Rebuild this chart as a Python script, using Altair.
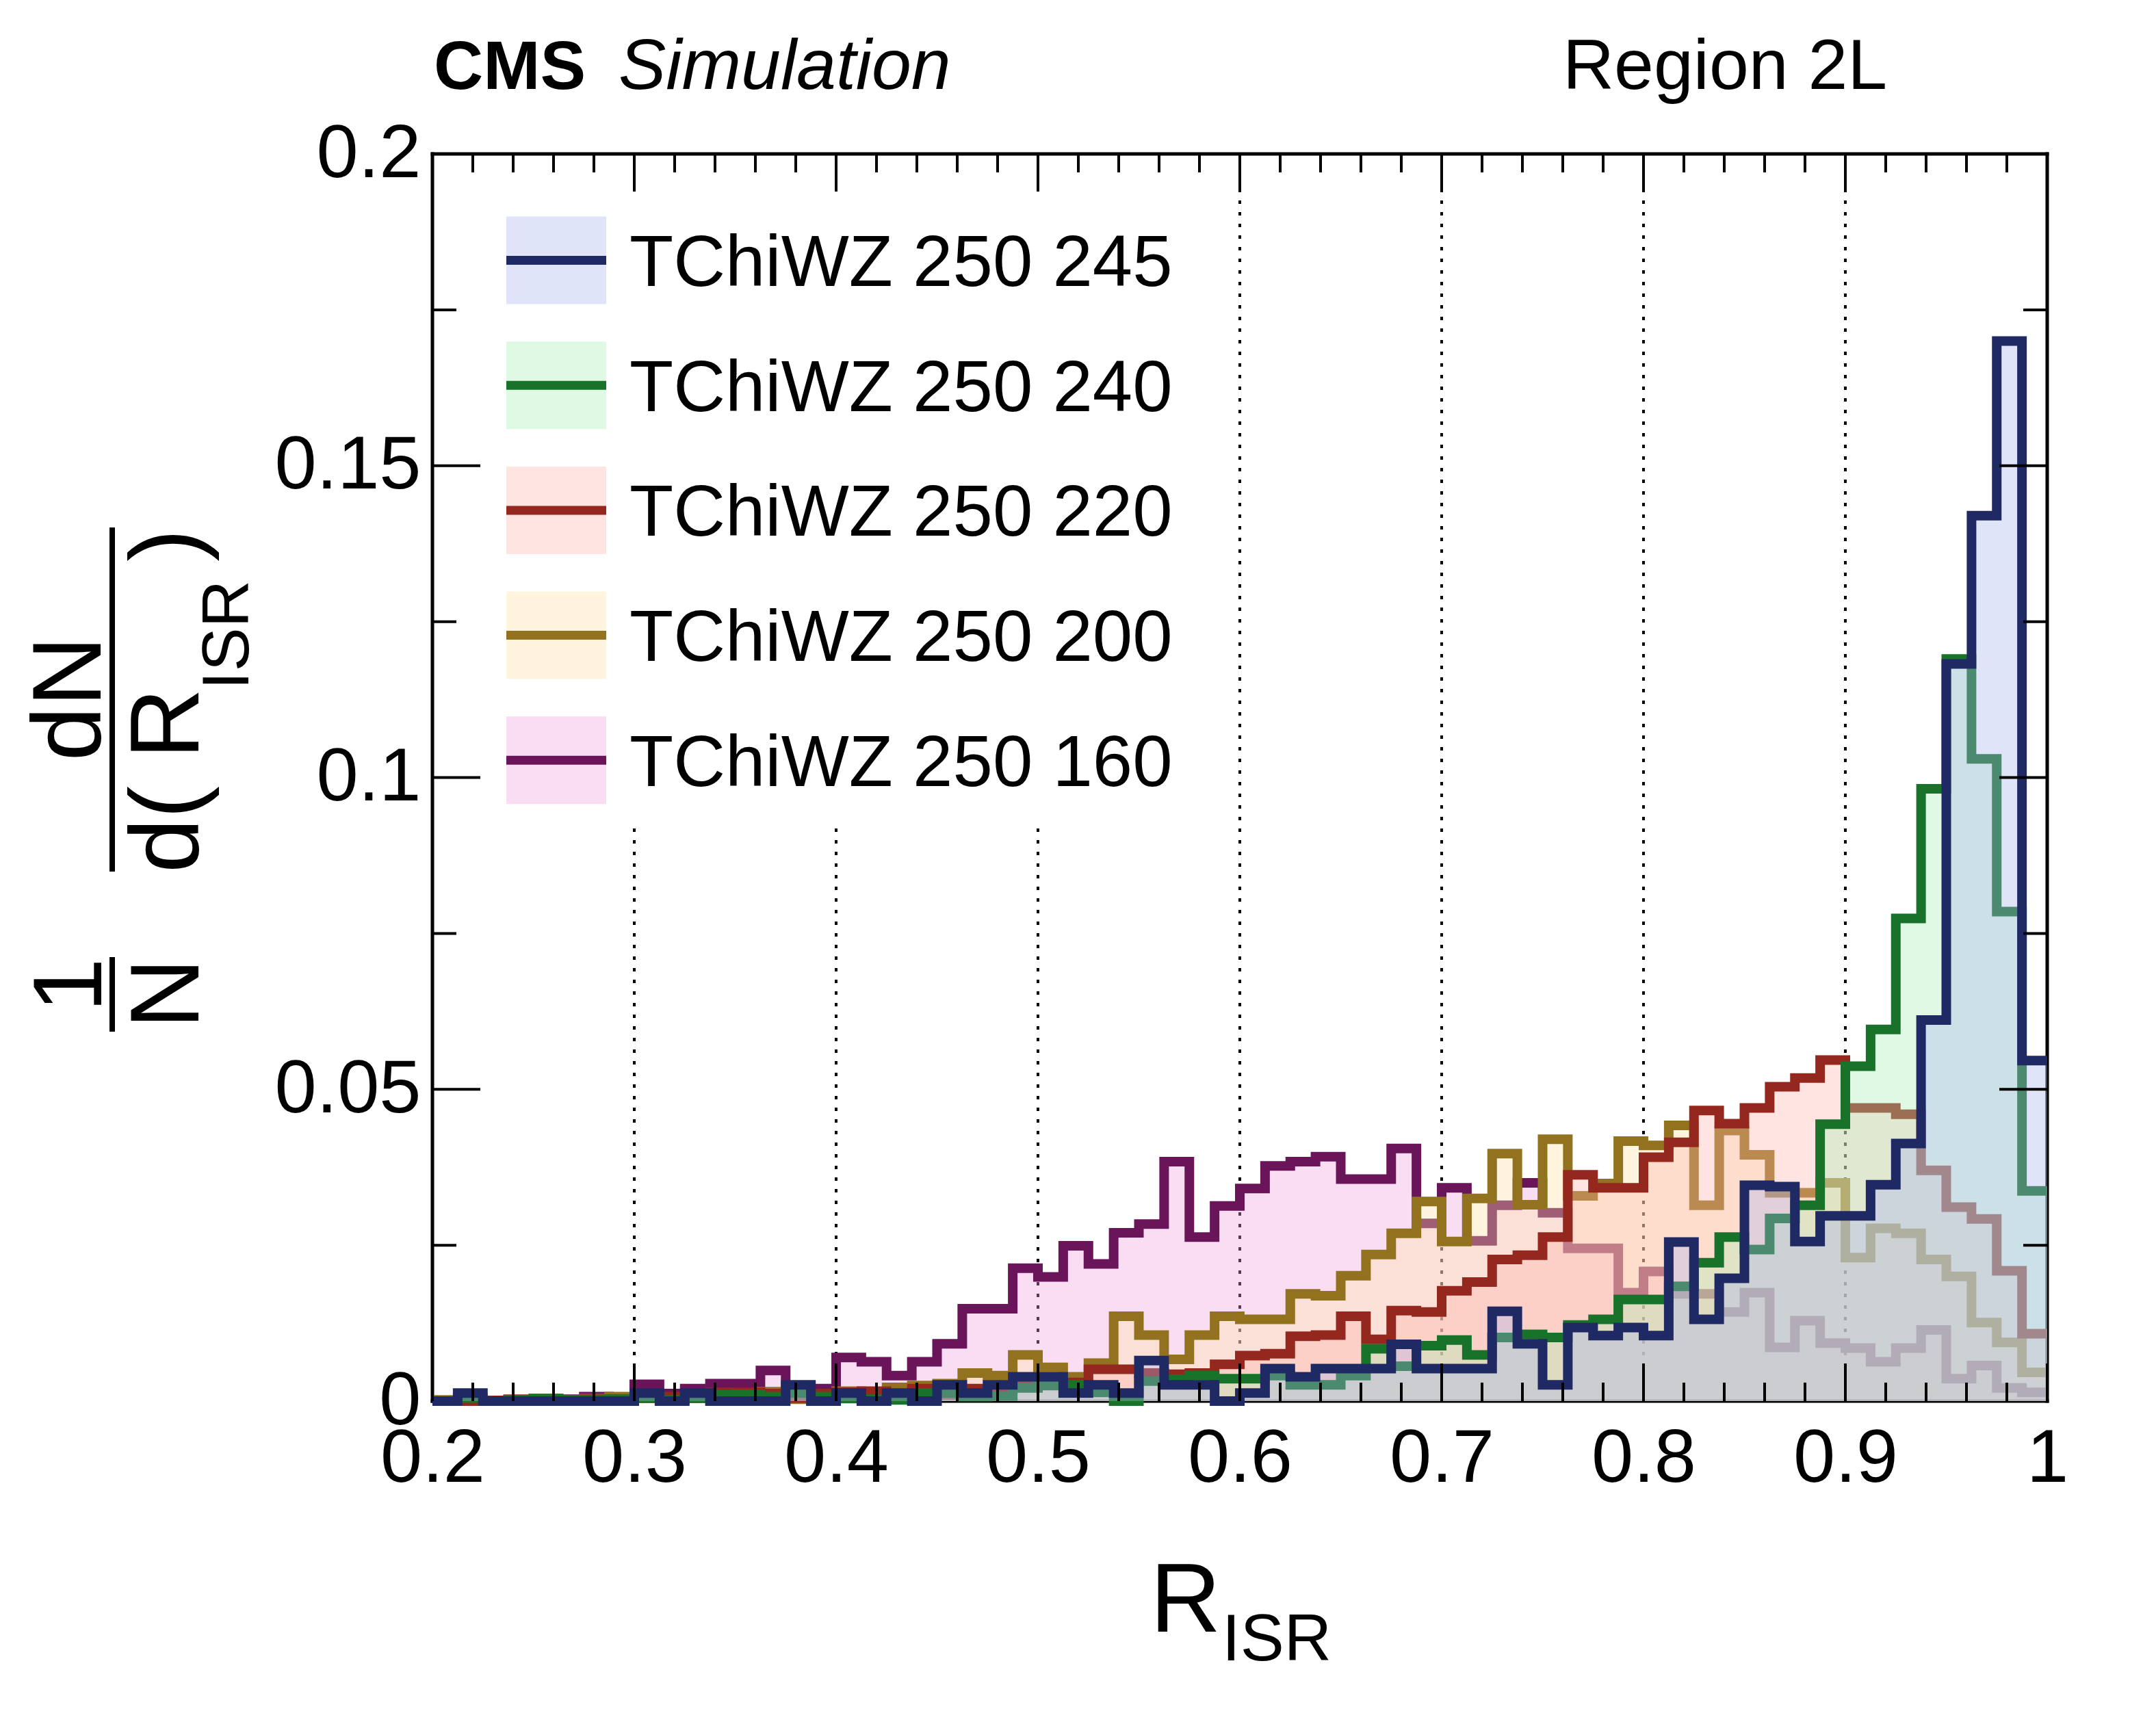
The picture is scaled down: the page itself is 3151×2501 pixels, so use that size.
import altair as alt
import pandas as pd

# ---------------- data ----------------
N_BINS = 64
X_MIN, X_MAX = 0.2, 1.0
BIN_WIDTH = (X_MAX - X_MIN) / N_BINS
bin_edges = [round(X_MIN + i * BIN_WIDTH, 6) for i in range(N_BINS)]

series_names = ["TChiWZ 250 245", "TChiWZ 250 240", "TChiWZ 250 220",
                "TChiWZ 250 200", "TChiWZ 250 160"]

v245 = [0, 0.0013, 0, 0, 0, 0, 0, 0, 0.0013, 0, 0.0013, 0, 0, 0, 0.0026, 0,
        0.0013, 0, 0.0013, 0, 0.0026, 0.0013, 0.0026, 0.0039, 0.0039, 0.0013, 0.0026, 0.0013, 0.0065, 0.0026, 0.0026, 0,
        0.0013, 0.0052, 0.0039, 0.0052, 0.0052, 0.0052, 0.0091, 0.0052, 0.0052, 0.0052, 0.0144, 0.0092, 0.0026, 0.0118, 0.0105, 0.0118,
        0.0105, 0.0255, 0.0131, 0.0197, 0.0346, 0.0344, 0.0256, 0.0297, 0.0297, 0.0347, 0.0413, 0.0611, 0.1182, 0.142, 0.170, 0.0546]

v240 = [0, 0.0005, 0, 0.0002, 0.0004, 0.0002, 0.0002, 0.0003, 0.0005, 0.0002, 0.0005, 0.001, 0.0011, 0.0007, 0.0013, 0.0007,
        0.0004, 0.0003, 0.0002, 0.0013, 0.0013, 0.0007, 0.0008, 0.0021, 0.0025, 0.0026, 0.0014, 0.0, 0.0032, 0.0035, 0.0041, 0.0036,
        0.0036, 0.0041, 0.0026, 0.0026, 0.0041, 0.0084, 0.0056, 0.0089, 0.0098, 0.0074, 0.0102, 0.0107, 0.0102, 0.0122, 0.0131, 0.0163,
        0.0163, 0.0184, 0.0222, 0.0263, 0.0243, 0.0293, 0.0314, 0.0444, 0.0537, 0.0596, 0.0774, 0.0982, 0.119, 0.103, 0.0785, 0.0337]

v220 = [0, 0, 0.0001, 0.0003, 0.0003, 0.0002, 0.0003, 0.0003, 0.0005, 0.0007, 0.0005, 0.0014, 0.0014, 0.0012, 0.0005, 0.0012,
        0.0014, 0.0016, 0.0003, 0.002, 0.001, 0.002, 0.0018, 0.0025, 0.003, 0.003, 0.0051, 0.0051, 0.0045, 0.0043, 0.0045, 0.0059,
        0.0073, 0.0076, 0.0104, 0.0106, 0.0136, 0.0099, 0.0145, 0.0143, 0.0177, 0.0191, 0.0227, 0.0234, 0.0263, 0.0363, 0.0342, 0.0342,
        0.0391, 0.0415, 0.0466, 0.0445, 0.047, 0.0504, 0.0518, 0.0547, 0.047, 0.047, 0.046, 0.037, 0.0311, 0.0292, 0.0209, 0.0108]

v200 = [0.0002, 0, 0, 0.0002, 0.0004, 0.0002, 0.0004, 0.0007, 0.0005, 0.0005, 0.0008, 0.0008, 0.001, 0.0015, 0.0003, 0.0007,
        0.0016, 0.0012, 0.0022, 0.0025, 0.0028, 0.0045, 0.0041, 0.0074, 0.0054, 0.0039, 0.0061, 0.0136, 0.0106, 0.0067, 0.0106, 0.0136,
        0.0131, 0.0131, 0.0172, 0.0169, 0.0201, 0.0235, 0.0269, 0.032, 0.0256, 0.0325, 0.0397, 0.0315, 0.042, 0.0329, 0.0349, 0.0417,
        0.041, 0.0442, 0.0314, 0.0434, 0.0395, 0.0334, 0.0334, 0.035, 0.023, 0.0277, 0.0269, 0.0227, 0.02, 0.0126, 0.0094, 0.0046]

v160 = [0, 0, 0, 0, 0, 0.0003, 0.0007, 0.0005, 0.0027, 0.0012, 0.002, 0.0028, 0.0028, 0.0049, 0.0025, 0.002,
        0.007, 0.0063, 0.0041, 0.0063, 0.0092, 0.0148, 0.0148, 0.0213, 0.0199, 0.0249, 0.022, 0.027, 0.0284, 0.0384, 0.0263, 0.0313,
        0.0341, 0.0377, 0.0384, 0.0392, 0.0356, 0.0356, 0.0405, 0.0285, 0.0342, 0.0257, 0.0314, 0.035, 0.0302, 0.0245, 0.0245, 0.0174,
        0.0208, 0.0172, 0.0172, 0.0143, 0.0174, 0.0086, 0.0129, 0.0093, 0.0085, 0.0063, 0.0085, 0.0114, 0.0036, 0.0057, 0.0021, 0.0014]

series_values = [v245, v240, v220, v200, v160]
line_colors = ["#1f2a64", "#18722a", "#95281e", "#93721f", "#6a1459"]
fill_colors = ["#aab4ee", "#a8efb6", "#ffb4ab", "#ffe2a6", "#eea4de"]

x_tick_values = [0.2, 0.3, 0.4, 0.5, 0.6, 0.7, 0.8, 0.9, 1.0]
y_tick_values = [0, 0.05, 0.1, 0.15, 0.2]
grid_x = [0.3, 0.4, 0.5, 0.6, 0.7, 0.8, 0.9]
x_minor = [round(0.2 + 0.02 * k, 4) for k in range(41) if k % 5]
y_major = [0.05, 0.1, 0.15]
y_minor = [0.025, 0.075, 0.125, 0.175]

# ---------------- tables ----------------
rows = []
for name, vals in zip(series_names, series_values):
    for e, v in zip(bin_edges, vals):
        rows.append({"series": name, "x": e, "y": v})
    rows.append({"series": name, "x": X_MAX, "y": vals[-1]})
hist_df = pd.DataFrame(rows)

one = pd.DataFrame({"a": [0]})

# ---------------- layout ----------------
W, H = 2360, 1823
FONT = "Liberation Sans"
LW = 14
FILL_OP = 0.36

XS = alt.Scale(domain=[X_MIN, X_MAX], nice=False, zero=False)
YS = alt.Scale(domain=[0, 0.2], nice=False, zero=False)
XAX = alt.Axis(values=x_tick_values, format="~g", labelFont=FONT, labelFontSize=110,
               labelColor="black", labelPadding=117, labelBaseline="alphabetic",
               ticks=False, tickSize=0, domain=False, grid=False, title=None, labelLimit=0,
               labelFlush=False, labelOverlap=False, labelBound=False)
YAX = alt.Axis(values=y_tick_values, format="~g", labelFont=FONT, labelFontSize=110,
               labelColor="black", labelPadding=17, labelBaseline="middle", labelAlign="right",
               ticks=False, tickSize=0, domain=False, grid=False, title=None, labelLimit=0,
               labelFlush=False, labelOverlap=False, labelBound=False)


def X(f="x"):
    return alt.X(f"{f}:Q", scale=XS, axis=XAX)


def Y(f="y"):
    return alt.Y(f"{f}:Q", scale=YS, axis=YAX)


layers = []

# dotted vertical grid
layers.append(alt.Chart(pd.DataFrame({"x": grid_x})).mark_rule(
    color="black", strokeWidth=4, strokeDash=[5, 12]).encode(
    x=X(), y=alt.value(0), y2=alt.value(H)))

# frame
for (a, b, c, d) in [(0, 0, 0, H), (W, 0, W, H), (0, 0, W, 0), (0, H, W, H)]:
    layers.append(alt.Chart(one).mark_rule(color="black", strokeWidth=5, strokeCap="square").encode(
        x=alt.value(a), y=alt.value(b), x2=alt.value(c), y2=alt.value(d)))

# histograms (drawn in ROOT order: last legend entry first)
for idx in [4, 3, 2, 1, 0]:
    name = series_names[idx]
    base = alt.Chart(hist_df).transform_filter(alt.datum.series == name)
    layers.append(base.mark_area(interpolate="step-after", color=fill_colors[idx], opacity=FILL_OP).encode(
        x=X(), y=Y()))
    layers.append(base.mark_line(interpolate="step-after", color=line_colors[idx], strokeWidth=LW,
                                 strokeJoin="miter", strokeCap="butt").encode(x=X(), y=Y()))

# legend background (covers grid lines)
layers.append(alt.Chart(one).mark_rect(color="white").encode(
    x=alt.value(8), x2=alt.value(1110), y=alt.value(8), y2=alt.value(982)))

# ticks
dfx_major = pd.DataFrame({"x": x_tick_values})
dfx_minor = pd.DataFrame({"x": x_minor})
dfy_major = pd.DataFrame({"y": y_major})
dfy_minor = pd.DataFrame({"y": y_minor})
for df, L in [(dfx_major, 55), (dfx_minor, 27)]:
    layers.append(alt.Chart(df).mark_rule(color="black", strokeWidth=4).encode(
        x=X(), y=alt.value(H), y2=alt.value(H - L)))
    layers.append(alt.Chart(df).mark_rule(color="black", strokeWidth=4).encode(
        x=X(), y=alt.value(0), y2=alt.value(L)))
for df, L in [(dfy_major, 70), (dfy_minor, 35)]:
    layers.append(alt.Chart(df).mark_rule(color="black", strokeWidth=4).encode(
        y=Y(), x=alt.value(0), x2=alt.value(L)))
    layers.append(alt.Chart(df).mark_rule(color="black", strokeWidth=4).encode(
        y=Y(), x=alt.value(W), x2=alt.value(W - L)))

# legend entries
LEG_Y0, LEG_DY = 155.5, 182.7
SW_X0, SW_X1, SW_H = 108, 254, 128
for i, name in enumerate(series_names):
    yc = LEG_Y0 + i * LEG_DY
    layers.append(alt.Chart(one).mark_rect(color=fill_colors[i], opacity=FILL_OP).encode(
        x=alt.value(SW_X0), x2=alt.value(SW_X1), y=alt.value(yc - SW_H / 2), y2=alt.value(yc + SW_H / 2)))
    layers.append(alt.Chart(one).mark_rule(color=line_colors[i], strokeWidth=13).encode(
        x=alt.value(SW_X0), x2=alt.value(SW_X1), y=alt.value(yc)))
    layers.append(alt.Chart(one).mark_text(text=name, font=FONT, fontSize=105, align="left",
                                           baseline="alphabetic", color="black").encode(
        x=alt.value(288), y=alt.value(yc + 37.5)))


def txt(s, x, y, size, align="left", angle=0, weight="normal", style="normal", baseline="alphabetic"):
    return alt.Chart(one).mark_text(text=s, font=FONT, fontSize=size, align=align, baseline=baseline,
                                    angle=angle, fontWeight=weight, fontStyle=style,
                                    color="black").encode(x=alt.value(x), y=alt.value(y))


# header
layers.append(txt("CMS", 2, -95, 100, weight="bold"))
layers.append(txt("Simulation", 272, -95, 104, style="italic"))
layers.append(txt("Region 2L", 1652, -95, 104))

# x title
layers.append(txt("R", 1049, 2160, 143))
layers.append(txt("ISR", 1154, 2202, 96))

# y title (rotated fraction)
layers.append(txt("1", -484, 1215, 143, align="center", angle=270))
layers.append(txt("N", -342, 1227, 143, align="center", angle=270))
layers.append(txt("dN", -485, 796, 143, align="center", angle=270))
layers.append(txt("d( R", -342, 916, 143, align="center", angle=270))
layers.append(txt("ISR", -269, 703, 96, align="center", angle=270))
layers.append(txt(")", -342, 572, 143, align="center", angle=270))
layers.append(alt.Chart(one).mark_rule(color="black", strokeWidth=8).encode(
    x=alt.value(-468), y=alt.value(1174), y2=alt.value(1283)))
layers.append(alt.Chart(one).mark_rule(color="black", strokeWidth=8).encode(
    x=alt.value(-468), y=alt.value(546), y2=alt.value(1049)))

chart = alt.layer(*layers).properties(
    width=W, height=H,
    padding={"left": 624, "top": 217, "right": 139, "bottom": 420},
    autosize=alt.AutoSizeParams(type="none"),
    background="white",
).configure_view(strokeWidth=0)

chart.save("out.html", embed_options={"renderer": "svg", "actions": False})
